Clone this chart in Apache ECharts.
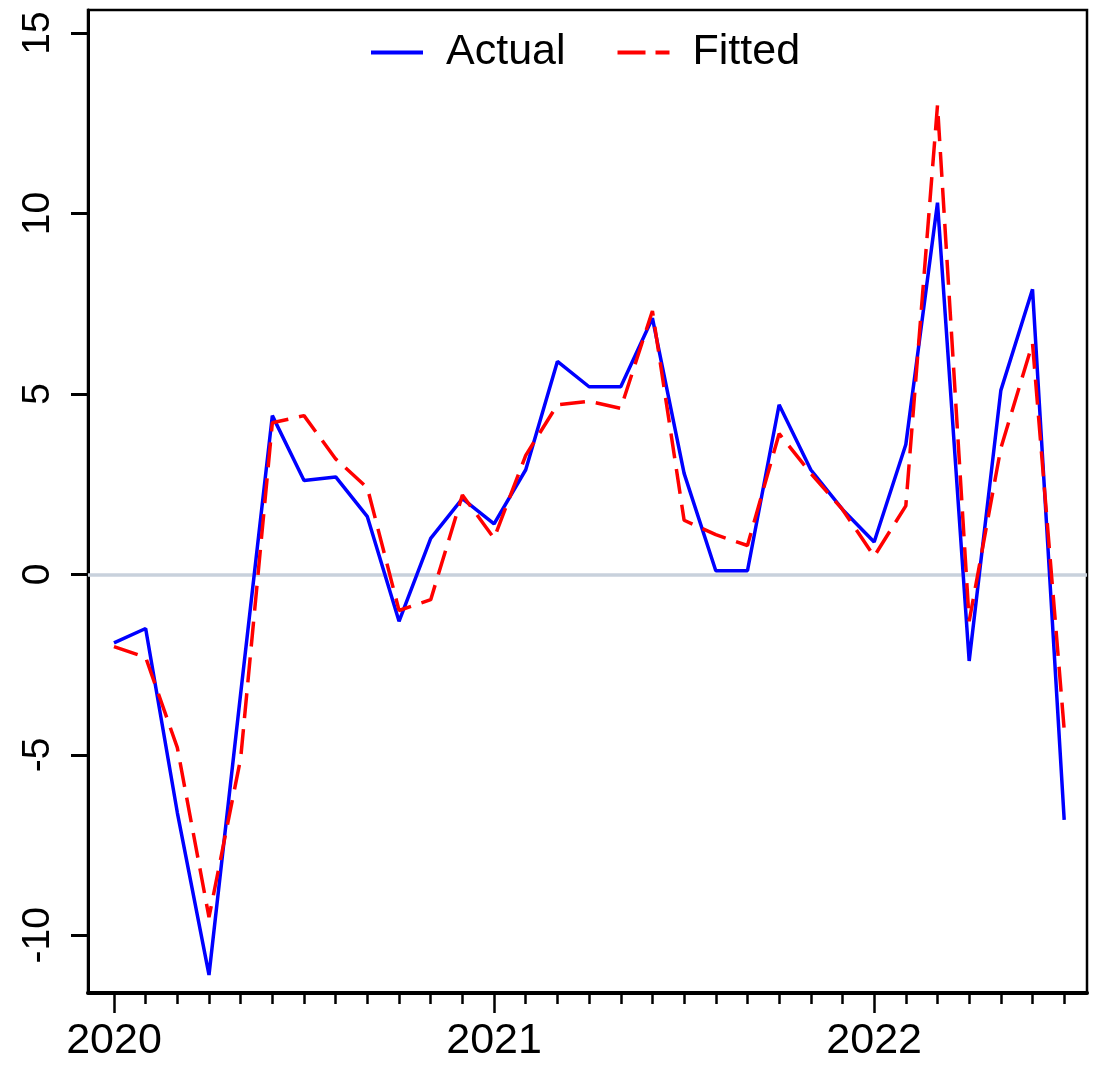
<!DOCTYPE html>
<html>
<head>
<meta charset="utf-8">
<script src="https://cdn.jsdelivr.net/npm/echarts@6/dist/echarts.min.js"></script>
<style>
  html, body { margin: 0; padding: 0; background: #fff; }
  #chart { width: 1097px; height: 1065px; }
</style>
</head>
<body>
<div id="chart"></div>
<script>
// Monthly observations, Jan 2020 - Jul 2022
const months = [
  '2020-01','2020-02','2020-03','2020-04','2020-05','2020-06','2020-07','2020-08','2020-09','2020-10','2020-11','2020-12',
  '2021-01','2021-02','2021-03','2021-04','2021-05','2021-06','2021-07','2021-08','2021-09','2021-10','2021-11','2021-12',
  '2022-01','2022-02','2022-03','2022-04','2022-05','2022-06','2022-07'
];
const actual = [
  -1.9, -1.5, -6.6, -11.1, -3.3, 4.4, 2.6, 2.7, 1.6, -1.3, 1.0, 2.1,
  1.4, 2.9, 5.9, 5.2, 5.2, 7.1, 2.8, 0.1, 0.1, 4.7, 2.9, 1.8,
  0.9, 3.6, 10.3, -2.4, 5.1, 7.9, -6.8
];
const fitted = [
  -2.0, -2.3, -4.8, -9.5, -5.1, 4.2, 4.4, 3.2, 2.4, -1.0, -0.7, 2.2,
  1.0, 3.3, 4.7, 4.8, 4.6, 7.3, 1.5, 1.1, 0.8, 3.9, 2.8, 1.8,
  0.5, 1.9, 13.0, -1.3, 3.5, 6.4, -4.3
];
const yearLabels = ['2020', '2021', '2022'];
const yTicks = [-10, -5, 0, 5, 10, 15];

const FONT = '"Liberation Sans", Arial, Helvetica, sans-serif';

// month index -> position on the value axis
const toPoints = vals => vals.map((v, i) => [i, v]);
const monthIdx = months.map((m, i) => i);
const yearIdx = yearLabels.map((y, i) => i * 12);

// legend keys: a solid bar and a dashed bar
const solidKey = 'path://M0,0h52v4h-52z';
const dashedKey = 'path://M0,0h28v4h-28z M38,0h14v4h-14z';

const chart = echarts.init(document.getElementById('chart'), null, { renderer: 'canvas' });

chart.setOption({
  animation: false,
  backgroundColor: '#fff',
  grid: {
    left: 88, right: 10, top: 10, bottom: 72,
    show: true, borderColor: '#000', borderWidth: 2.5, backgroundColor: 'transparent'
  },
  legend: {
    data: [
      { name: 'Actual', icon: solidKey },
      { name: 'Fitted', icon: dashedKey }
    ],
    left: 366, top: 26,
    itemWidth: 52, itemHeight: 4, itemGap: 52,
    textStyle: { fontFamily: FONT, fontSize: 43, color: '#000', padding: [0, 0, 0, 18] }
  },
  xAxis: [
    {
      // monthly minor ticks
      type: 'value', min: -0.82, max: 30.72,
      axisLine: { show: true, onZero: false, lineStyle: { color: '#000', width: 4 } },
      axisTick: { show: true, length: 11, customValues: monthIdx, lineStyle: { color: '#000', width: 2.5 } },
      axisLabel: { show: false },
      splitLine: { show: false }
    },
    {
      // yearly major ticks with labels
      type: 'value', min: -0.82, max: 30.72, position: 'bottom',
      axisLine: { show: false, onZero: false },
      axisTick: { show: true, length: 20, customValues: yearIdx, lineStyle: { color: '#000', width: 2.5 } },
      axisLabel: {
        show: true, customValues: yearIdx, margin: 27,
        fontFamily: FONT, fontSize: 43, color: '#000',
        formatter: v => yearLabels[Math.round(v / 12)]
      },
      splitLine: { show: false }
    }
  ],
  yAxis: {
    type: 'value', min: -11.6, max: 15.64,
    axisLine: { show: true, onZero: false, lineStyle: { color: '#000', width: 3 } },
    axisTick: { show: true, length: 17, customValues: yTicks, lineStyle: { color: '#000', width: 3 } },
    axisLabel: {
      show: true, customValues: yTicks, rotate: 90, margin: 30,
      fontFamily: FONT, fontSize: 39, color: '#000'
    },
    splitLine: { show: false }
  },
  series: [
    {
      name: 'Actual', type: 'line', xAxisIndex: 0,
      data: toPoints(actual),
      symbol: 'none', z: 3,
      lineStyle: { color: '#0000ff', width: 3.5 },
      itemStyle: { color: '#0000ff' },
      markLine: {
        silent: true, z: 1, symbol: ['none', 'none'],
        label: { show: false },
        lineStyle: { color: '#c8d1dc', width: 3.5, type: 'solid' },
        data: [{ yAxis: 0 }]
      }
    },
    {
      name: 'Fitted', type: 'line', xAxisIndex: 0,
      data: toPoints(fitted),
      symbol: 'none', z: 4,
      lineStyle: { color: '#ff0000', width: 3.5, type: [25, 11] },
      itemStyle: { color: '#ff0000' }
    }
  ]
});
</script>
</body>
</html>
